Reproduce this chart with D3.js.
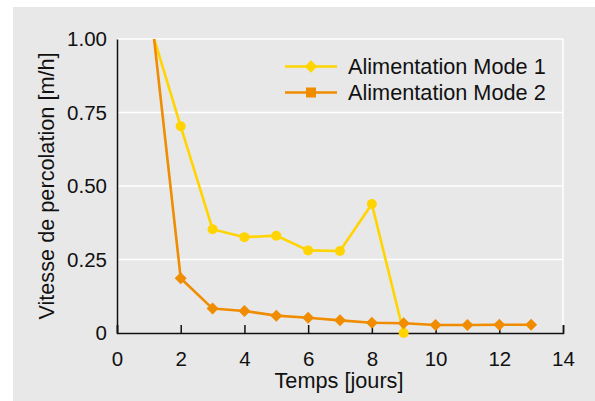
<!DOCTYPE html>
<html><head><meta charset="utf-8">
<script src="https://cdn.jsdelivr.net/npm/d3@7"></script>
<style>body{margin:0;background:#fff}svg{display:block}text{font-family:"Liberation Sans",Arial,sans-serif;fill:#111}</style>
</head><body>
<svg id="c" width="595" height="401"></svg>
<script>
const days = [1,2,3,4,5,6,7,8,9,10,11,12,13];
const mode1 = [1.06,0.703,0.353,0.326,0.331,0.281,0.279,0.439,0.0];
const mode2 = [1.16,0.186,0.083,0.075,0.059,0.052,0.043,0.035,0.033,0.027,0.027,0.028,0.028];
const seriesNames = ["Alimentation Mode 1","Alimentation Mode 2"];
const xTicks = [0,2,4,6,8,10,12,14];
const yTicks = [0,0.25,0.5,0.75,1.0];
const yTickLabels = ["0","0.25","0.50","0.75","1.00"];
const colors = ["#FFD400","#F08C00"];

const svg = d3.select("#c");
svg.append("rect").attr("x",13).attr("y",7).attr("width",582).attr("height",394).attr("fill","#e8e8e8");

const L=117,R=563,T=39,B=333;
const x = d3.scaleLinear().domain([0,14]).range([L,R]);
const y = d3.scaleLinear().domain([0,1]).range([B,T]);

// gridlines
svg.append("g").selectAll("line").data(yTicks.filter(d=>d>0)).join("line")
  .attr("x1",L).attr("x2",R).attr("y1",d=>y(d)).attr("y2",d=>y(d))
  .attr("stroke","#fff").attr("stroke-width",1.5);
svg.append("line").attr("x1",R).attr("x2",R).attr("y1",T).attr("y2",B).attr("stroke","#fff").attr("stroke-width",1.5);

// x axis
const xa = svg.append("g").attr("transform",`translate(0,${B})`)
  .call(d3.axisBottom(x).tickValues(xTicks).tickSize(-8).tickPadding(18).tickFormat(d3.format("d")));
xa.select(".domain").attr("stroke","#111").attr("stroke-width",1.5);
xa.selectAll(".tick line").attr("stroke","#111").attr("stroke-width",1.5);
xa.selectAll("text").attr("font-size",20.5).attr("fill","#111").attr("font-family","Liberation Sans, Arial, sans-serif");

// y axis
const ya = svg.append("g").attr("transform",`translate(${L},0)`)
  .call(d3.axisLeft(y).tickValues(yTicks).tickSize(0).tickPadding(10).tickFormat((d,i)=>yTickLabels[i]));
ya.select(".domain").attr("stroke","#111").attr("stroke-width",1.5);
ya.selectAll("text").attr("font-size",20.5).attr("fill","#111").attr("font-family","Liberation Sans, Arial, sans-serif");

// labels
svg.append("text").attr("x",339).attr("y",388).attr("text-anchor","middle").attr("font-size",21.7).text("Temps [jours]");
svg.append("text").attr("transform",`translate(54,${(T+B)/2}) rotate(-90)`).attr("text-anchor","middle").attr("font-size",21.7).text("Vitesse de percolation [m/h]");

// clip
svg.append("clipPath").attr("id","pc").append("rect").attr("x",L).attr("y",T).attr("width",R-L).attr("height",B-T+10);

const line = d3.line().x(d=>x(d[0])).y(d=>y(d[1]));
const d1 = mode1.map((v,i)=>[days[i],v]);
const d2 = mode2.map((v,i)=>[days[i],v]);

// series 1
svg.append("path").datum(d1).attr("d",line).attr("fill","none").attr("stroke",colors[0]).attr("stroke-width",2.6).attr("clip-path","url(#pc)");
svg.append("g").selectAll("circle").data(d1.filter(d=>d[1]<=1)).join("circle")
  .attr("cx",d=>x(d[0])).attr("cy",d=>y(d[1])).attr("r",5).attr("fill",colors[0]);

// series 2
svg.append("path").datum(d2).attr("d",line).attr("fill","none").attr("stroke",colors[1]).attr("stroke-width",2.6).attr("clip-path","url(#pc)");
svg.append("g").selectAll("path").data(d2.filter(d=>d[1]<=1)).join("path")
  .attr("transform",d=>`translate(${x(d[0])},${y(d[1])}) rotate(45)`)
  .attr("d",d3.symbol().type(d3.symbolSquare).size(72)).attr("fill",colors[1]);

// legend
const lg = svg.append("g");
const ly = [66.5,92.5];
seriesNames.forEach((n,i)=>{
  lg.append("line").attr("x1",285).attr("x2",337).attr("y1",ly[i]).attr("y2",ly[i]).attr("stroke",colors[i]).attr("stroke-width",2.6);
  if(i===0){
    lg.append("path").attr("transform",`translate(311,${ly[i]}) rotate(45)`).attr("d",d3.symbol().type(d3.symbolSquare).size(80)).attr("fill",colors[i]);
  } else {
    lg.append("path").attr("transform",`translate(311,${ly[i]})`).attr("d",d3.symbol().type(d3.symbolSquare).size(100)).attr("fill",colors[i]);
  }
  lg.append("text").attr("x",348).attr("y",ly[i]+7).attr("font-size",21.7).text(n);
});
</script>
</body></html>
